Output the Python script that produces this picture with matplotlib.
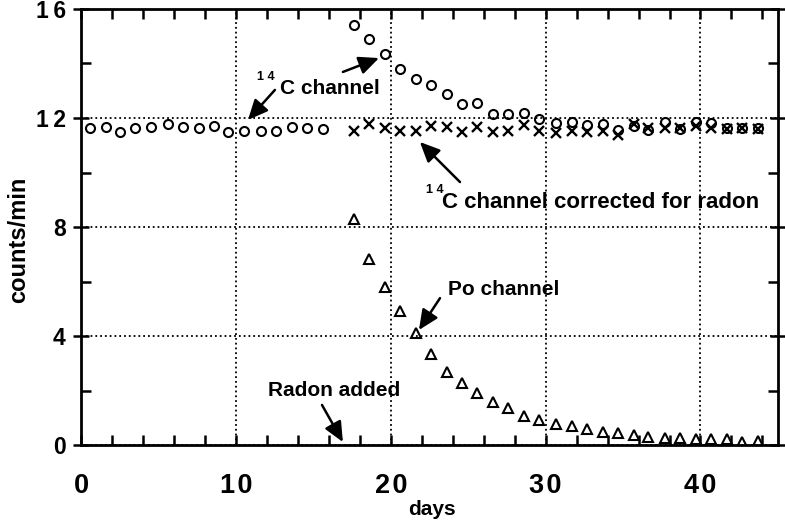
import matplotlib
matplotlib.use('Agg')
import matplotlib.pyplot as plt
from matplotlib.ticker import MultipleLocator

plt.rcParams['font.family'] = ['Liberation Sans', 'DejaVu Sans']
plt.rcParams['font.weight'] = 'bold'

# 14C channel before radon was added
days_pre = [0.6, 1.6, 2.5, 3.5, 4.5, 5.6, 6.6, 7.6, 8.6, 9.5, 10.5, 11.6, 12.6, 13.6, 14.6, 15.6]
c14_pre = [11.62, 11.68, 11.5, 11.62, 11.68, 11.77, 11.68, 11.64, 11.72, 11.5,
           11.53, 11.53, 11.53, 11.66, 11.62, 11.6]

# after radon added
days_post = [17.6, 18.6, 19.6, 20.6, 21.6, 22.6, 23.6, 24.6, 25.6, 26.6, 27.6, 28.6, 29.6,
             30.7, 31.7, 32.7, 33.7, 34.7, 35.7, 36.6, 37.7, 38.7, 39.7, 40.7, 41.7, 42.7, 43.7]
c14_post = [15.41, 14.9, 14.35, 13.8, 13.43, 13.21, 12.88, 12.51, 12.55, 12.15, 12.15, 12.18, 11.96,
            11.82, 11.85, 11.74, 11.77, 11.56, 11.7, 11.56, 11.85, 11.6, 11.85, 11.8, 11.62, 11.65, 11.65]
c14_corrected = [11.53, 11.78, 11.62, 11.53, 11.53, 11.72, 11.68, 11.47, 11.68, 11.47, 11.53, 11.74, 11.53,
                 11.44, 11.53, 11.47, 11.53, 11.38, 11.78, 11.65, 11.65, 11.65, 11.72, 11.65, 11.6, 11.62, 11.6]
po_channel = [8.29, 6.83, 5.8, 4.92, 4.11, 3.34, 2.68, 2.28, 1.91, 1.58, 1.34, 1.08, 0.93,
              0.78, 0.7, 0.59, 0.48, 0.44, 0.37, 0.29, 0.26, 0.26, 0.21, 0.21, 0.21, 0.12, 0.15]

xticks = [0, 10, 20, 30, 40]
xtick_labels = ['0', '1\u200a0', '2\u200a0', '3\u200a0', '4\u200a0']
yticks = [0, 4, 8, 12, 16]
ytick_labels = ['0', '4', '8', '1\u20092', '1\u20096']

fig = plt.figure(figsize=(7.85, 5.2), dpi=100)
ax = fig.add_axes([0.1032, 0.1442, 0.8878, 0.8385])

mk = dict(linestyle='none', color='black', markerfacecolor='none', markersize=6.5, markeredgewidth=1.5)
ax.plot(days_pre, c14_pre, marker='o', **mk)
ax.plot(days_post, c14_post, marker='o', **mk)
ax.plot(days_post, c14_corrected, marker='x', linestyle='none', color='black', markersize=6.5, markeredgewidth=1.7)
ax.plot(days_post, po_channel, marker='^', **mk)

ax.set_xlim(0, 45)
ax.set_ylim(0, 16)
ax.set_xticks(xticks)
ax.set_xticklabels(xtick_labels, fontsize=19.5, fontweight='bold')
ax.set_yticks(yticks)
ax.set_yticklabels(ytick_labels, fontsize=16.5, fontweight='bold')
ax.xaxis.set_minor_locator(MultipleLocator(2))
ax.yaxis.set_minor_locator(MultipleLocator(2))
ax.tick_params(axis='x', which='both', direction='in', top=True, length=7, width=1.8, pad=20)
ax.tick_params(axis='y', which='major', direction='inout', right=True, length=12, width=1.8, pad=5)
ax.tick_params(axis='y', which='minor', direction='in', right=True, length=7, width=1.8)
for s in ax.spines.values():
    s.set_linewidth(2)

ax.grid(True, which='major', linestyle=':', color='black', linewidth=1.3)

ax.set_xlabel('days', fontsize=15, fontweight='bold', va='top')
ax.xaxis.set_label_coords(0.504, -0.125)
ax.set_ylabel('counts/min', fontsize=17, fontweight='bold', va='center')
ax.yaxis.set_label_coords(-0.09, 0.47)

# annotations
txt = dict(fontsize=15, fontweight='bold', va='baseline', ha='left')
sup = dict(fontsize=9, fontweight='bold', va='baseline', ha='left')
ax.text(12.85, 12.88, 'C channel', **txt)
ax.text(11.36, 13.39, '1 4', **sup)
ax.text(23.3, 8.7, 'C channel corrected for radon', fontsize=16, fontweight='bold', va='baseline', ha='left')
ax.text(22.27, 9.25, '1 4', **sup)
ax.text(23.69, 5.5, 'Po channel', **txt)
ax.text(12.07, 1.8, 'Radon added', **txt)

arrow = dict(arrowstyle='-|>,head_length=0.55,head_width=0.25', color='black', lw=1.8,
             mutation_scale=22, shrinkA=0, shrinkB=0)
for tail, head in [((12.52, 13.03), (10.78, 11.93)),
                   ((16.91, 13.69), (19.24, 14.2)),
                   ((24.47, 9.65), (21.88, 11.12)),
                   ((23.18, 5.39), (21.82, 4.22)),
                   ((15.56, 1.47), (16.91, 0.11))]:
    ax.annotate('', xy=head, xytext=tail, arrowprops=arrow)

fig.savefig('out.png', dpi=100)
